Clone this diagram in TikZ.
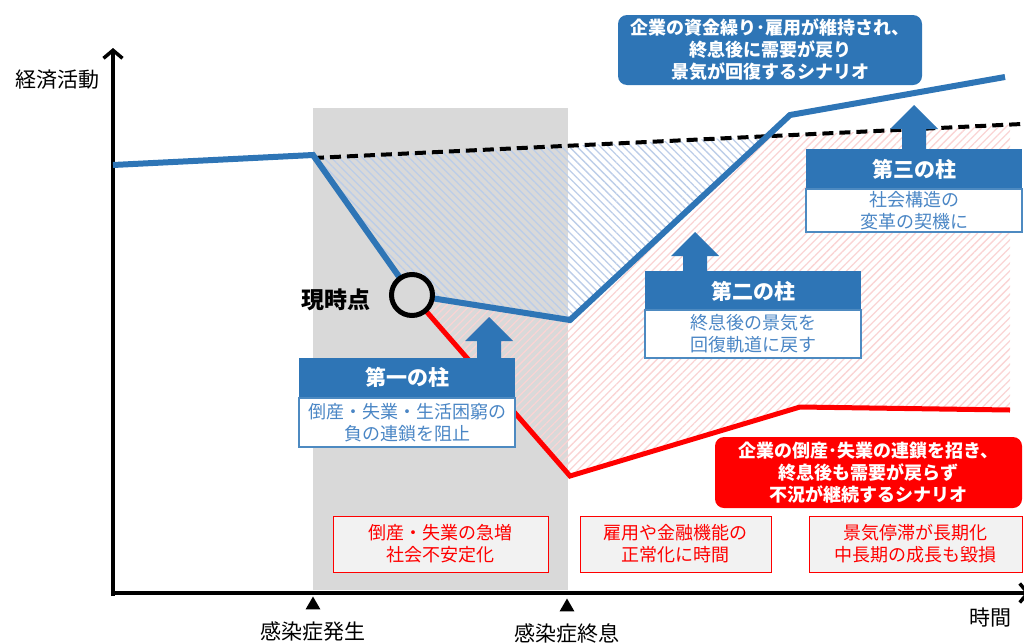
\documentclass[tikz,border=0pt]{standalone}
\usepackage{fontspec}
\newfontfamily\jp{Noto Sans CJK JP}
\usetikzlibrary{patterns.meta,arrows.meta,shapes.geometric}
\definecolor{cblue}{HTML}{2E75B6}
\definecolor{cred}{HTML}{FF0000}
\definecolor{cgray}{HTML}{D9D9D9}
\definecolor{bodyblue}{HTML}{4A86C5}
\definecolor{hatchblue}{HTML}{BCCDE8}
\definecolor{hatchred}{HTML}{FAD4D4}
\definecolor{boxfill}{HTML}{F2F2F2}
\tikzset{
  scen/.style={rounded corners=9pt, fill=#1, text=white, font=\jp\bfseries\fontsize{18}{22}\selectfont, align=center, inner sep=0pt},
  pillarhead/.style={fill=cblue, text=white, font=\jp\bfseries\fontsize{21}{25}\selectfont, minimum width=216pt, minimum height=40pt, inner sep=0pt},
  pillarbody/.style={draw=cblue!85, line width=1.2pt, fill=white, text=bodyblue, font=\jp\fontsize{18}{22}\selectfont, align=center, minimum width=216pt, inner sep=0pt},
  effect/.style={draw=cred, line width=1pt, fill=boxfill, text=cred, font=\jp\fontsize{18}{22}\selectfont, align=center, minimum height=56pt, inner sep=0pt},
  axislabel/.style={font=\jp\fontsize{21}{25}\selectfont, text=black, inner sep=0pt},
  marker/.style={regular polygon, regular polygon sides=3, fill=black, inner sep=0pt, minimum size=17pt},
  axisline/.style={line width=3.5pt, black},
  bluecurve/.style={line width=6pt, cblue, line join=miter},
  redcurve/.style={line width=5pt, cred, line join=miter},
  trendline/.style={line width=4pt, black, dash pattern=on 11pt off 6pt},
  bluehatch/.style={pattern={Lines[angle=-45,distance=5.5pt,line width=1.3pt]}, pattern color=hatchblue},
  redhatch/.style={pattern={Lines[angle=45,distance=5.5pt,line width=1.3pt]}, pattern color=hatchred},
}
\newcommand\pillararrow[3]{%
  \fill[cblue] (#1-12,#2) -- (#1-12,#3+24) -- (#1-24,#3+24) -- (#1,#3) -- (#1+24,#3+24) -- (#1+12,#3+24) -- (#1+12,#2) -- cycle;}
\begin{document}
\begin{tikzpicture}[x=1pt,y=-1pt]
\useasboundingbox (0,0) rectangle (1024,643);
% pandemic period
\fill[cgray] (313,108) rectangle (568,590);
% coordinates
\coordinate (b0) at (113,165);
\coordinate (b1) at (313,155);
\coordinate (b3) at (570,320);
\coordinate (b4) at (790,115);
\coordinate (b5) at (1005,77);
\coordinate (d1) at (313,158);
\coordinate (d2) at (1022,124);
\coordinate (dR) at (1010,124.6);
\coordinate (r1) at (570,476);
\coordinate (r2) at (800,407);
\coordinate (r3) at (1010,410);
\coordinate (now) at (412,295);
\coordinate (X) at (intersection of b3--b4 and d1--d2);
% hatched areas
\fill[redhatch] (now) -- (b3) -- (X) -- (dR) -- (r3) -- (r2) -- (r1) -- cycle;
\fill[bluehatch] (b1) -- (now) -- (b3) -- (X) -- (d1) -- cycle;
% axes
\draw[axisline, -{Straight Barb[length=8pt,width=19pt]}] (113,596) -- (113,48);
\draw[axisline, -{Straight Barb[length=8pt,width=19pt]}] (111,593) -- (1030,593);
% curves
\draw[trendline] (d1) -- (d2);
\draw[redcurve] (now) -- (r1) -- (r2) -- (r3);
\draw[bluecurve] (b0) -- (b1) -- (now) -- (b3) -- (b4) -- (b5);
\node[circle, draw=black, line width=5pt, fill=cgray, minimum size=41pt, inner sep=0pt] (nowc) at (now) {};
\node[font=\jp\bfseries\fontsize{23}{27}\selectfont, inner sep=0pt] (nowlbl) at (336,300) {現時点};
% axis labels
\node[axislabel] (ylbl) at (57,80) {経済活動};
\node[axislabel] (xlbl) at (990,618) {時間};
\node[marker] (m1) at (313,605) {};
\node[marker] (m2) at (567,607) {};
\node[axislabel] (onset) at (313,631) {感染症発生};
\node[axislabel] (endl) at (567,633) {感染症終息};
% scenario boxes
\node[scen=cblue, minimum width=304pt, minimum height=70pt] (good) at (770,50) {企業の資金繰り･雇用が維持され、\\終息後に需要が戻り\\景気が回復するシナリオ};
\node[scen=cred, minimum width=307pt, minimum height=71pt] (bad) at (868.5,472.5) {企業の倒産･失業の連鎖を招き、\\終息後も需要が戻らず\\不況が継続するシナリオ};
% pillars
\node[pillarhead] (h1) at (407,377.5) {第一の柱};
\node[pillarbody, minimum height=49pt] (p1) at (407,422.5) {倒産・失業・生活困窮の\\負の連鎖を阻止};
\pillararrow{489}{358}{317}
\node[pillarhead] (h2) at (753,291) {第二の柱};
\node[pillarbody, minimum height=48pt] (p2) at (753,334) {終息後の景気を\\回復軌道に戻す};
\pillararrow{695}{272}{232}
\node[pillarhead] (h3) at (914,169) {第三の柱};
\node[pillarbody, minimum height=43pt] (p3) at (914,210.5) {社会構造の\\変革の契機に};
\pillararrow{914}{150}{105}
% effect boxes
\node[effect, minimum width=215pt] (e1) at (440.5,544) {倒産・失業の急増\\社会不安定化};
\node[effect, minimum width=191pt] (e2) at (675.5,544) {雇用や金融機能の\\正常化に時間};
\node[effect, minimum width=213pt] (e3) at (915.5,544) {景気停滞が長期化\\中長期の成長も毀損};
\end{tikzpicture}
\end{document}
